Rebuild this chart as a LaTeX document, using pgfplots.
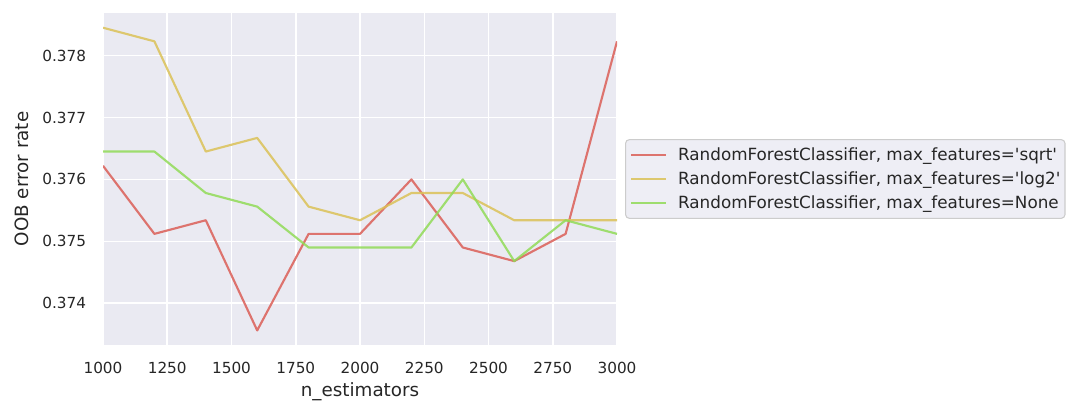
\documentclass[border=0pt]{standalone}
\usepackage{pgfplots}
\pgfplotsset{compat=1.18}
\usepackage{fontspec}
\setmainfont{DejaVu Sans}[Ligatures=TeXOff]
\definecolor{bgc}{HTML}{EAEAF2}
\definecolor{txt}{HTML}{262626}
\definecolor{cred}{HTML}{DB5F57}
\definecolor{cyel}{HTML}{DBC257}
\definecolor{cgrn}{HTML}{91DB57}
\definecolor{legfill}{HTML}{EEEEF5}
\definecolor{legdraw}{HTML}{CCCCCC}
\begin{document}
\begin{tikzpicture}
\path[use as bounding box] (-67.47pt,-37.99pt) rectangle (632.1pt,225.98pt);
\begin{axis}[
  at={(0,0)}, anchor=south west,
  scale only axis, width=336.7pt, height=217.46pt,
  xmin=1000, xmax=3000, ymin=0.373325, ymax=0.378688,
  axis background/.style={fill=bgc},
  axis line style={draw=none},
  major tick length=0pt,
  grid=major, grid style={white, line width=1pt},
  xtick={1000,1250,1500,1750,2000,2250,2500,2750,3000},
  ytick={0.374,0.375,0.376,0.377,0.378},
  scaled x ticks=false, scaled y ticks=false,
  /pgf/number format/assume math mode=true,
  xticklabel style={/pgf/number format/1000 sep={}, font=\fontsize{10}{12}\selectfont, text=txt, inner sep=0pt, anchor=north, yshift=-11.2pt},
  yticklabel style={/pgf/number format/fixed, /pgf/number format/precision=3, /pgf/number format/fixed zerofill, font=\fontsize{10}{12}\selectfont, text=txt, inner sep=0pt, anchor=east, xshift=-10.9pt},
  xlabel={n\_estimators}, ylabel={OOB error rate},
  xlabel style={at={(axis description cs:0.5,-0.1416)}, anchor=center, font=\fontsize{12}{14}\selectfont, text=txt},
  ylabel style={at={(axis description cs:-0.1576,0.5)}, anchor=center, font=\fontsize{12}{14}\selectfont, text=txt},
  legend cell align=left,
  legend image code/.code={\draw[#1] (0pt,0pt) -- (23pt,0pt);},
  legend style={at={(axis description cs:1.0156,0.5)}, anchor=west, fill=legfill, draw=legdraw, line width=0.7pt, rounded corners=2.5pt, font=\fontsize{11}{13}\selectfont, text=txt, inner xsep=3pt, inner ysep=5pt, row sep=6pt, nodes={inner sep=0pt}},
  legend style={/tikz/every odd column/.append style={column sep=7pt}},
  every axis plot/.append style={line width=1.4pt, opacity=0.85, line join=round},
]
\addplot[cred] coordinates {(1000,0.37622) (1200,0.37512) (1400,0.37534) (1600,0.37356) (1800,0.37512) (2000,0.37512) (2200,0.37600) (2400,0.37490) (2600,0.37468) (2800,0.37512) (3000,0.37823)};
\addlegendentry{RandomForestClassifier, max\_features='sqrt'}
\addplot[cyel] coordinates {(1000,0.37845) (1200,0.37823) (1400,0.37645) (1600,0.37667) (1800,0.37556) (2000,0.37534) (2200,0.37578) (2400,0.37578) (2600,0.37534) (2800,0.37534) (3000,0.37534)};
\addlegendentry{RandomForestClassifier, max\_features='log2'}
\addplot[cgrn] coordinates {(1000,0.37645) (1200,0.37645) (1400,0.37578) (1600,0.37556) (1800,0.37490) (2000,0.37490) (2200,0.37490) (2400,0.37600) (2600,0.37468) (2800,0.37534) (3000,0.37512)};
\addlegendentry{RandomForestClassifier, max\_features=None}
\end{axis}
\end{tikzpicture}
\end{document}
